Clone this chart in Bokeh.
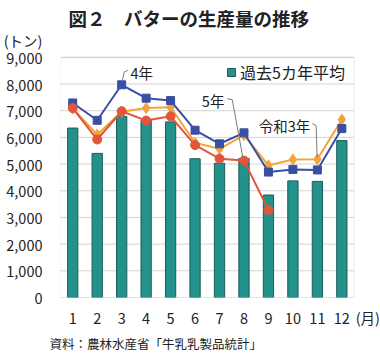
from bokeh.plotting import figure
from bokeh.models import (Range1d, FixedTicker, NumeralTickFormatter, Label, Title,
                          Legend, LegendItem, ColumnDataSource, BoxAnnotation)
from bokeh.embed import file_html
from bokeh.resources import INLINE

# ---- data ----
months = list(range(1, 13))
month_labels = [str(m) for m in months]
avg5 = [6350, 5400, 6790, 6640, 6580, 5200, 5030, 5210, 3840, 4370, 4350, 5880]
y2022 = [7290, 6640, 7970, 7470, 7380, 6270, 5760, 6170, 4700, 4800, 4780, 6330]
y2021 = [7080, 6100, 6960, 7100, 7130, 5800, 5570, 6080, 4950, 5170, 5180, 6670]
y2023 = [7100, 5920, 6980, 6630, 6790, 5710, 5200, 5130, 3280]
y_ticks = [0, 1000, 2000, 3000, 4000, 5000, 6000, 7000, 8000, 9000]
y_max = 9000
x_lo, x_hi = 0.5, 12.5

FONT = "Noto Sans CJK JP"
TXT = "#222222"
GRID = "#d4d4d4"
FRAME = "#b8b8b8"

# the frame is a little larger than the boxed plot area so that the units
# "(トン)" and "(月)" can be written as axis labels
p = figure(width=380, height=353, x_range=Range1d(0.5, 13.58), y_range=Range1d(0, 9930),
           output_backend="svg", toolbar_location=None, title=None,
           min_border_left=52, min_border_right=0, min_border_top=30, min_border_bottom=56)
p.background_fill_color = "white"
p.border_fill_color = "white"
p.outline_line_color = None
p.xgrid.grid_line_color = None
p.ygrid.grid_line_color = None

# horizontal grid lines limited to the boxed area
p.segment(x0=x_lo, x1=x_hi, y0=y_ticks, y1=y_ticks, line_color=GRID, line_width=1)
p.add_layout(BoxAnnotation(left=x_lo, right=x_hi, bottom=0, top=y_max,
                           fill_alpha=0, line_color=FRAME, line_width=1))

unit_y = 9640
p.yaxis.ticker = FixedTicker(ticks=y_ticks + [unit_y])
p.yaxis.formatter = NumeralTickFormatter(format="0,0")
p.yaxis.major_label_overrides = {unit_y: "(トン)"}
unit_x = 13.06
p.xaxis.ticker = FixedTicker(ticks=months + [unit_x])
ov = {m: l for m, l in zip(months, month_labels)}
ov[unit_x] = "(月)"
p.xaxis.major_label_overrides = ov
for ax in (p.xaxis[0], p.yaxis[0]):
    ax.axis_line_color = None
    ax.major_tick_line_color = None
    ax.minor_tick_line_color = None
    ax.major_label_text_font = FONT
    ax.major_label_text_font_size = "14.5px"
    ax.major_label_text_color = TXT
p.yaxis.major_label_standoff = 12
p.xaxis.major_label_standoff = 3

src = ColumnDataSource(dict(m=months, avg5=avg5, y2022=y2022, y2021=y2021))
src5 = ColumnDataSource(dict(m=months[:len(y2023)], y2023=y2023))

bars = p.vbar(x="m", top="avg5", width=0.42, source=src,
              fill_color="#22928a", line_color="#1c5c58", line_width=1)

p.line("m", "y2021", source=src, line_color="#f2a33a", line_width=2)
p.scatter("m", "y2021", source=src, marker="diamond", size=11,
          fill_color="#f2a33a", line_color="#f2a33a")

p.line("m", "y2022", source=src, line_color="#3a4fa3", line_width=2)
p.scatter("m", "y2022", source=src, marker="square", size=8,
          fill_color="#3a4fa3", line_color="#3a4fa3")

p.line("m", "y2023", source=src5, line_color="#e2553a", line_width=2)
p.scatter("m", "y2023", source=src5, marker="circle", size=9,
          fill_color="#e2553a", line_color="#e2553a")

# leader lines for annotations
lead4_x = [3.03, 3.11, 3.25]
lead4_y = [8156, 8454, 8510]
lead5_x = [7.32, 7.52, 7.96]
lead5_y = [7449, 7412, 5214]
lead3_x = [10.79, 10.95, 10.99]
lead3_y = [6518, 6443, 5251]
for xs, ys in ((lead4_x, lead4_y), (lead5_x, lead5_y), (lead3_x, lead3_y)):
    p.line(xs, ys, line_color="#7a7a7a", line_width=1)

def lab(x, y, text, size="14.5px", align="left"):
    p.add_layout(Label(x=x, y=y, text=text, text_font=FONT, text_font_size=size,
                       text_color=TXT, text_align=align, text_baseline="middle"))

lab(3.36, 8428, "4年")
lab(7.20, 7374, "5年", align="right")
lab(10.71, 6443, "令和3年", align="right")

p.add_layout(Title(text="図２　バターの生産量の推移", align="left", offset=8,
                   text_font=FONT, text_font_size="18.5px", text_font_style="bold",
                   text_color=TXT, standoff=4), "above")
p.add_layout(Title(text="資料：農林水産省「牛乳乳製品統計」", align="left", offset=-11,
                   text_font=FONT, text_font_size="12.5px", text_font_style="normal",
                   text_color=TXT, standoff=2), "below")

legend = Legend(items=[LegendItem(label="過去5カ年平均", renderers=[bars])],
                location=(166, 213), margin=0, padding=7, label_standoff=4,
                glyph_width=10, glyph_height=10, border_line_color=None,
                background_fill_alpha=0, label_text_font=FONT,
                label_text_font_size="16px", label_text_color=TXT)
p.add_layout(legend)

open("out.html", "w").write(file_html(p, INLINE))
